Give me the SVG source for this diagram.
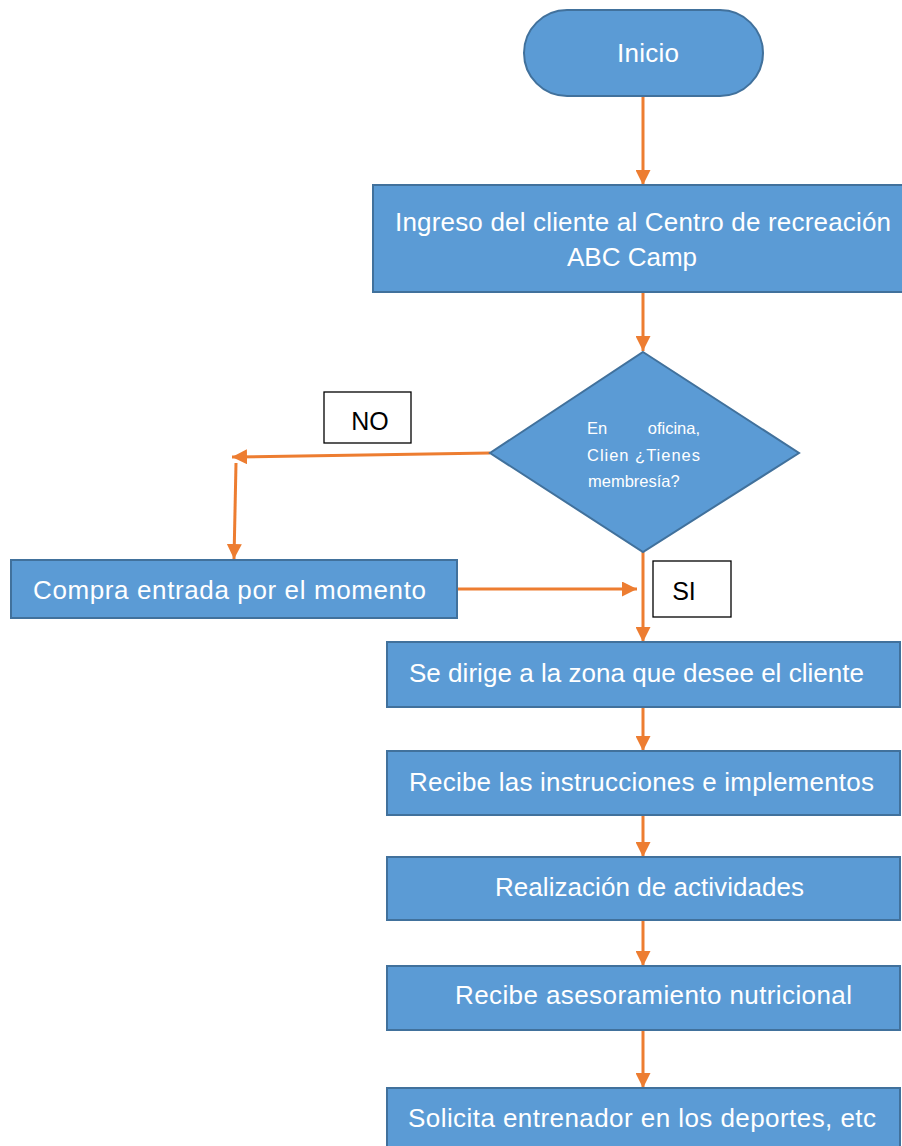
<svg xmlns="http://www.w3.org/2000/svg" width="902" height="1146" viewBox="0 0 902 1146">
<defs>
<style>
.n{fill:#5B9BD5;stroke:#41719C;stroke-width:2}
.t{fill:#FFFFFF;font-family:"Liberation Sans",Arial,sans-serif;font-size:26px}
.d{fill:#FFFFFF;font-family:"Liberation Sans",Arial,sans-serif;font-size:16.5px}
.lb{fill:#FFFFFF;stroke:#000000;stroke-width:1.3}
.lt{fill:#000000;font-family:"Liberation Sans",Arial,sans-serif;font-size:25px;text-anchor:middle}
.c{fill:none;stroke:#ED7D31;stroke-width:3;marker-end:url(#ah)}
</style>
<marker id="ah" viewBox="0 0 10 10" refX="10" refY="5" markerWidth="5" markerHeight="5" orient="auto" markerUnits="strokeWidth">
<path d="M0,0 L10,5 L0,10 z" fill="#ED7D31"/>
</marker>
</defs>
<rect width="902" height="1146" fill="#FFFFFF"/>
<g id="connectors">
<line class="c" x1="643" y1="97" x2="643" y2="185"/>
<line class="c" x1="643" y1="292" x2="643" y2="351"/>
<line class="c" x1="490" y1="453" x2="232" y2="457"/>
<line class="c" x1="236" y1="463" x2="234" y2="559"/>
<line class="c" x1="457" y1="589" x2="637" y2="589"/>
<line class="c" x1="643" y1="552" x2="643" y2="642"/>
<line class="c" x1="643" y1="707" x2="643" y2="751"/>
<line class="c" x1="643" y1="815" x2="643" y2="857"/>
<line class="c" x1="643" y1="920" x2="643" y2="966"/>
<line class="c" x1="643" y1="1030" x2="643" y2="1088"/>
</g>
<g id="inicio">
<rect class="n" x="524" y="10" width="239" height="86" rx="43" ry="43"/>
<text class="t" x="617" y="62" textLength="62">Inicio</text>
</g>
<g id="ingreso">
<rect class="n" x="373" y="185" width="535" height="107"/>
<text class="t" x="395" y="231" textLength="496">Ingreso del cliente al Centro de recreación</text>
<text class="t" x="632" y="266" text-anchor="middle">ABC Camp</text>
</g>
<g id="decision">
<polygon class="n" points="643,352 799,453 643,552 490,453"/>
<text class="d" x="587" y="434">En</text>
<text class="d" x="700" y="434" text-anchor="end">oficina,</text>
<text class="d" x="587" y="461" textLength="113">Clien ¿Tienes</text>
<text class="d" x="588" y="487">membresía?</text>
</g>
<g id="label-no">
<rect class="lb" x="324" y="392" width="87" height="51"/>
<text class="lt" x="370" y="430">NO</text>
</g>
<g id="compra">
<rect class="n" x="11" y="560" width="446" height="58"/>
<text class="t" x="33" y="599" textLength="393">Compra entrada por el momento</text>
</g>
<g id="label-si">
<rect class="lb" x="653" y="561" width="78" height="56"/>
<text class="lt" x="684" y="600">SI</text>
</g>
<g id="zona">
<rect class="n" x="387" y="642" width="513" height="65"/>
<text class="t" x="409" y="682" textLength="455">Se dirige a la zona que desee el cliente</text>
</g>
<g id="instrucciones">
<rect class="n" x="387" y="751" width="513" height="64"/>
<text class="t" x="409" y="791" textLength="465">Recibe las instrucciones e implementos</text>
</g>
<g id="actividades">
<rect class="n" x="387" y="857" width="513" height="63"/>
<text class="t" x="495" y="896" textLength="309">Realización de actividades</text>
</g>
<g id="nutricional">
<rect class="n" x="387" y="966" width="513" height="64"/>
<text class="t" x="455" y="1004" textLength="397">Recibe asesoramiento nutricional</text>
</g>
<g id="entrenador">
<rect class="n" x="387" y="1088" width="513" height="70"/>
<text class="t" x="408" y="1127" textLength="468">Solicita entrenador en los deportes, etc</text>
</g>
</svg>
